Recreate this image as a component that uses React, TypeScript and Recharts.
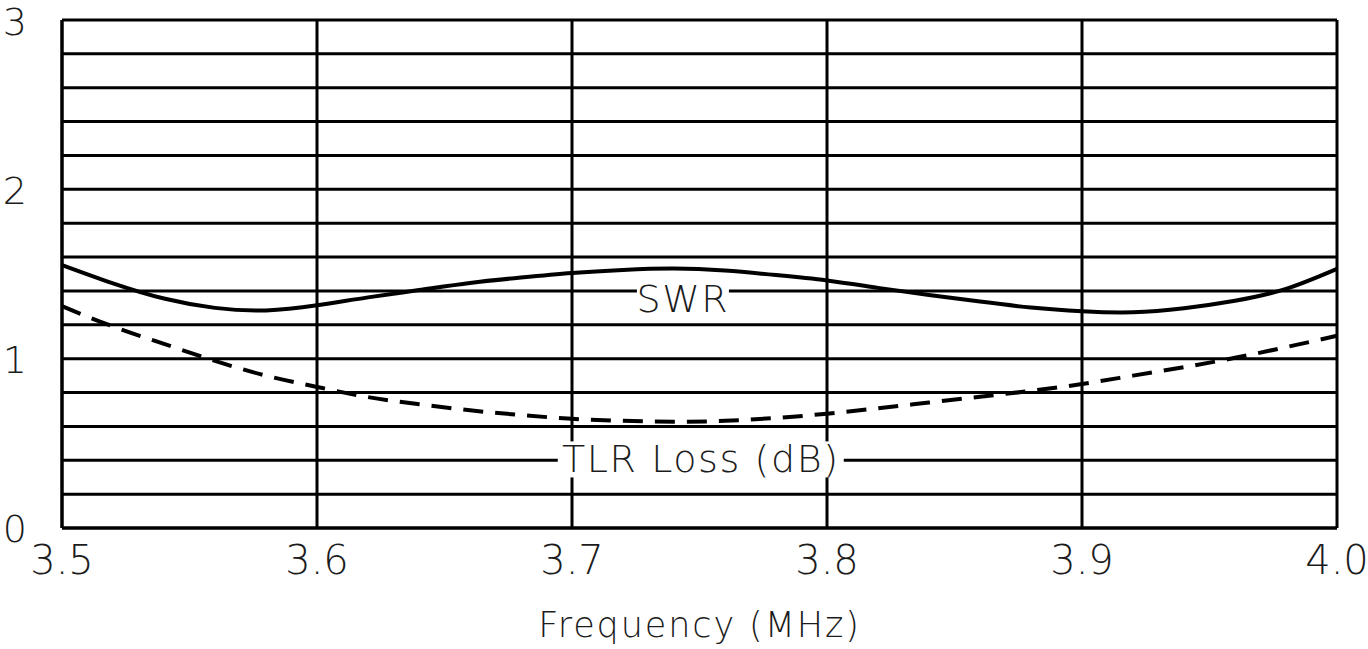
import React from "react";
import { LineChart, Line, XAxis, YAxis, CartesianGrid, ReferenceDot } from "recharts";

// frequency in MHz
const freq = [
  3.5, 3.52, 3.54, 3.56, 3.58, 3.6, 3.62, 3.64, 3.66, 3.68, 3.7, 3.72, 3.74,
  3.76, 3.78, 3.8, 3.82, 3.84, 3.86, 3.88, 3.9, 3.92, 3.94, 3.96, 3.98, 4.0,
];
const swr = [
  1.553, 1.445, 1.355, 1.3, 1.285, 1.315, 1.362, 1.405, 1.447, 1.479, 1.506, 1.524, 1.532,
  1.52, 1.494, 1.462, 1.418, 1.376, 1.337, 1.302, 1.28, 1.274, 1.298, 1.342, 1.412, 1.53,
];
const tlrLoss = [
  1.31, 1.19, 1.087, 0.987, 0.9, 0.833, 0.773, 0.731, 0.695, 0.667, 0.645, 0.633, 0.627,
  0.633, 0.65, 0.675, 0.707, 0.741, 0.775, 0.81, 0.85, 0.9, 0.95, 1.005, 1.068, 1.135,
];

const xTicks = [3.5, 3.6, 3.7, 3.8, 3.9, 4.0];
const yGrid = [0, 0.2, 0.4, 0.6, 0.8, 1, 1.2, 1.4, 1.6, 1.8, 2, 2.2, 2.4, 2.6, 2.8, 3];

const swrLabel = { f: 3.7435, v: 1.352, text: "SWR", w: 92 };
const tlrLabel = { f: 3.7505, v: 0.405, text: "TLR Loss (dB)", w: 286 };

const data = freq.map((f, i) => ({ f, swr: swr[i], tlr: tlrLoss[i] }));

const font = "'DejaVu Sans ExtraLight', 'DejaVu Sans', sans-serif";
const ink = "#1c1c1c";

function boxLabel(text: string, w: number) {
  return (props: any) => {
    const { viewBox } = props;
    const cx = viewBox.x + viewBox.width / 2;
    const cy = viewBox.y + viewBox.height / 2;
    return (
      <g>
        <rect x={cx - w / 2} y={cy - 18} width={w} height={36} fill="#fff" />
        <text
          x={cx}
          y={cy}
          textAnchor="middle"
          dominantBaseline="central"
          fontFamily={font}
          fontWeight={200}
          fontSize={38}
          letterSpacing={1.6}
          fill={ink}
        >
          {text}
        </text>
      </g>
    );
  };
}

export default function App() {
  return (
    <div style={{ position: "absolute", left: 0, top: 0, width: 1368, height: 649, background: "#fff" }}>
      <LineChart width={1368} height={649} data={data} margin={{ top: 20, right: 31, left: 0, bottom: 0 }}>
        <CartesianGrid stroke="#000" strokeWidth={3} />
        <XAxis
          dataKey="f"
          type="number"
          domain={[3.5, 4.0]}
          ticks={xTicks}
          tickFormatter={(v) => v.toFixed(1)}
          height={121}
          axisLine={{ stroke: "#000", strokeWidth: 3 }}
          tickLine={false}
          tickSize={0}
          tickMargin={18}
          tick={{ fontSize: 40, fontFamily: font, fontWeight: 200, fill: ink }}
          interval={0}
          label={{
            content: (p: any) => (
              <text
                x={p.viewBox.x + p.viewBox.width / 2}
                y={p.viewBox.y + 109}
                textAnchor="middle"
                fontFamily={font}
                fontWeight={200}
                fontSize={35}
                letterSpacing={1.9}
                fill={ink}
              >
                Frequency (MHz)
              </text>
            ),
          }}
        />
        <YAxis
          type="number"
          domain={[0, 3]}
          ticks={yGrid}
          tickFormatter={(v) => (Number.isInteger(v) ? String(v) : "")}
          width={62}
          axisLine={{ stroke: "#000", strokeWidth: 3 }}
          tickLine={false}
          tickSize={0}
          tickMargin={35}
          tick={{ fontSize: 38, fontFamily: font, fontWeight: 200, fill: ink, dy: 1 }}
          interval={0}
        />
        <Line
          dataKey="swr"
          type="natural"
          stroke="#000"
          strokeWidth={4}
          dot={false}
          isAnimationActive={false}
        />
        <Line
          dataKey="tlr"
          type="natural"
          stroke="#000"
          strokeWidth={4}
          strokeDasharray="20 12"
          dot={false}
          isAnimationActive={false}
        />
        <ReferenceDot x={swrLabel.f} y={swrLabel.v} r={0} stroke="none" label={boxLabel(swrLabel.text, swrLabel.w)} />
        <ReferenceDot x={tlrLabel.f} y={tlrLabel.v} r={0} stroke="none" label={boxLabel(tlrLabel.text, tlrLabel.w)} />
      </LineChart>
    </div>
  );
}
